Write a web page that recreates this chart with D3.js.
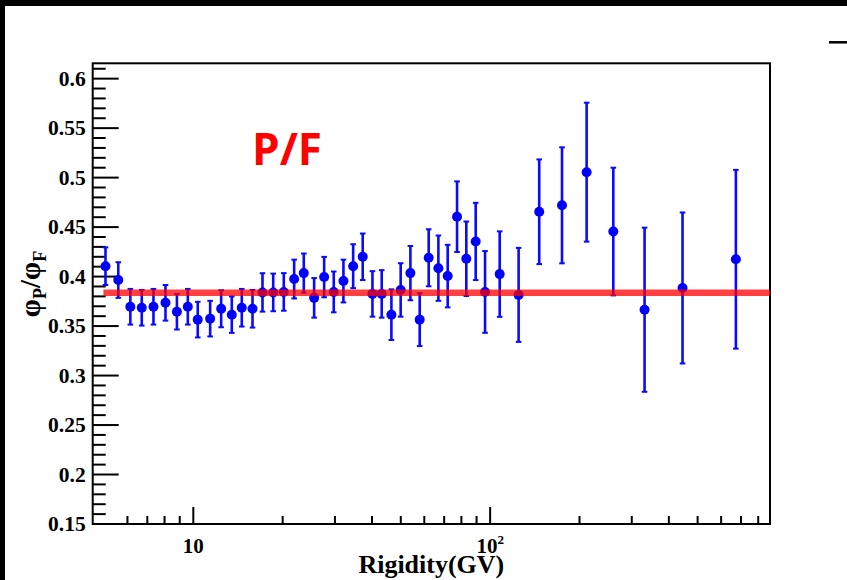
<!DOCTYPE html>
<html>
<head>
<meta charset="utf-8">
<script src="https://cdn.jsdelivr.net/npm/d3@7"></script>
<style>
  html, body { margin: 0; padding: 0; background: #fff; }
  svg { display: block; }
</style>
</head>
<body>
<svg id="chart" width="847" height="580"></svg>
<script>
// ---- data ----
const rigidity = [5.08,5.61,6.16,6.73,7.37,8.09,8.84,9.62,10.39,11.44,12.46,13.53,14.62,15.89,17.17,18.66,20.25,21.95,23.65,25.63,27.70,29.84,32.17,34.69,37.36,40.29,43.29,46.67,50.15,54.08,58.12,62.32,67.19,72.22,77.66,83.45,89.74,96.49,108.1,125.2,146.9,175.3,212.2,261.0,332.6,446.5,675.3];
const ratio = [0.410,0.396,0.369,0.368,0.369,0.373,0.364,0.369,0.356,0.357,0.367,0.361,0.368,0.367,0.3835,0.3835,0.384,0.397,0.403,0.378,0.399,0.384,0.395,0.410,0.4195,0.382,0.382,0.361,0.386,0.403,0.356,0.4185,0.408,0.400,0.460,0.4175,0.435,0.384,0.402,0.381,0.465,0.4715,0.505,0.445,0.366,0.388,0.417];
const ratioErr = [0.019,0.018,0.018,0.018,0.018,0.018,0.018,0.018,0.018,0.018,0.0187,0.0184,0.019,0.019,0.0194,0.019,0.019,0.0196,0.0198,0.020,0.0204,0.0206,0.0216,0.0222,0.0235,0.023,0.024,0.0256,0.027,0.0274,0.0267,0.0288,0.033,0.0316,0.0357,0.0376,0.039,0.0413,0.0432,0.0475,0.0529,0.0586,0.0702,0.0645,0.0829,0.0763,0.0903];
const fitValue = 0.3831;
const fitRange = [5.0, 880];
const xDomain = [4.6, 880];
const yDomain = [0.1495, 0.615];
const yMajorTicks = [0.15,0.2,0.25,0.3,0.35,0.4,0.45,0.5,0.55,0.6];
const yTickLabels = ["0.15","0.2","0.25","0.3","0.35","0.4","0.45","0.5","0.55","0.6"];
const xMajorTicks = [10, 100];
const xMinorTicks = [6,7,8,9,20,30,40,50,60,70,80,90,200,300,400,500,600,700,800];

// ---- layout ----
const svg = d3.select("#chart");
const L = 92.7, R = 770, T = 63.3, B = 524;
const x = d3.scaleLog().domain(xDomain).range([L, R]);
const y = d3.scaleLinear().domain(yDomain).range([B, T]);
const serif = "'Liberation Serif','Times New Roman',serif";

// black canvas border bands
svg.append("rect").attr("x",0).attr("y",0).attr("width",847).attr("height",6).attr("fill","#000");
svg.append("rect").attr("x",0).attr("y",0).attr("width",5).attr("height",580).attr("fill","#000");
// small dash top-right
svg.append("line").attr("x1",829).attr("x2",847).attr("y1",42.3).attr("y2",42.3).attr("stroke","#000").attr("stroke-width",2.5);

// y minor ticks
const yMinor = d3.range(15, 62).map(v => v/100).filter(v => Math.round(v*100) % 5 !== 0);
svg.append("g").attr("transform",`translate(${L},0)`)
  .call(d3.axisLeft(y).tickValues(yMinor).tickSizeInner(-13).tickSizeOuter(0).tickFormat(""))
  .call(g => g.select(".domain").remove())
  .call(g => g.selectAll("line").attr("stroke","#000").attr("stroke-width",2));
// y major ticks
svg.append("g").attr("transform",`translate(${L},0)`)
  .call(d3.axisLeft(y).tickValues(yMajorTicks).tickSizeInner(-26).tickSizeOuter(0).tickPadding(7)
        .tickFormat((d,i) => yTickLabels[i]))
  .call(g => g.select(".domain").remove())
  .call(g => g.selectAll("line").attr("stroke","#000").attr("stroke-width",2))
  .call(g => g.selectAll("text").attr("font-family",serif).attr("font-weight","bold")
        .attr("font-size","21.5px").attr("fill","#000").attr("dy","0.34em"));

// x minor ticks
svg.append("g").attr("transform",`translate(0,${B})`)
  .call(d3.axisBottom(x).tickValues(xMinorTicks).tickSizeInner(-8).tickSizeOuter(0).tickFormat(""))
  .call(g => g.select(".domain").remove())
  .call(g => g.selectAll("line").attr("stroke","#000").attr("stroke-width",2));
// x major ticks
const xMajG = svg.append("g").attr("transform",`translate(0,${B})`)
  .call(d3.axisBottom(x).tickValues(xMajorTicks).tickSizeInner(-17).tickSizeOuter(0).tickFormat(""))
  .call(g => g.select(".domain").remove())
  .call(g => g.selectAll("line").attr("stroke","#000").attr("stroke-width",2));
xMajG.selectAll(".tick").append("text")
  .attr("y", 29).attr("text-anchor","middle")
  .attr("font-family",serif).attr("font-weight","bold").attr("font-size","21px").attr("fill","#000")
  .each(function(d){
    const t = d3.select(this);
    const e = Math.round(Math.log10(d));
    if (e === 1) { t.text("10"); }
    else {
      t.append("tspan").text("10");
      t.append("tspan").text(String(e)).attr("font-size","13px").attr("dy","-9");
    }
  });

// frame
svg.append("rect").attr("x",L).attr("y",T).attr("width",R-L).attr("height",B-T)
  .attr("fill","none").attr("stroke","#000").attr("stroke-width",2);

// data: error bars + markers
const pts = rigidity.map((r,i) => ({r, v: ratio[i], e: ratioErr[i]}));
const gData = svg.append("g");
gData.selectAll("line.err").data(pts).join("line").attr("class","err")
  .attr("x1",d=>x(d.r)).attr("x2",d=>x(d.r))
  .attr("y1",d=>y(d.v+d.e)).attr("y2",d=>y(d.v-d.e))
  .attr("stroke","#0a0aff").attr("stroke-width",2.6);
gData.selectAll("line.capT").data(pts).join("line").attr("class","capT")
  .attr("x1",d=>x(d.r)-2.8).attr("x2",d=>x(d.r)+2.8)
  .attr("y1",d=>y(d.v+d.e)).attr("y2",d=>y(d.v+d.e))
  .attr("stroke","#0a0aff").attr("stroke-width",2);
gData.selectAll("line.capB").data(pts).join("line").attr("class","capB")
  .attr("x1",d=>x(d.r)-2.8).attr("x2",d=>x(d.r)+2.8)
  .attr("y1",d=>y(d.v-d.e)).attr("y2",d=>y(d.v-d.e))
  .attr("stroke","#0a0aff").attr("stroke-width",2);
gData.selectAll("circle").data(pts).join("circle")
  .attr("cx",d=>x(d.r)).attr("cy",d=>y(d.v)).attr("r",5).attr("fill","#0000ff");

// fit line (semi-transparent red, drawn on top)
svg.append("line")
  .attr("x1",x(fitRange[0])).attr("x2",Math.min(x(fitRange[1]),R))
  .attr("y1",y(fitValue)).attr("y2",y(fitValue))
  .attr("stroke","#ff0000").attr("stroke-opacity",0.75).attr("stroke-width",6.5);

// P/F label
svg.append("text").attr("x",252).attr("y",165)
  .attr("font-family","'Open Sans','Noto Sans',sans-serif").attr("font-weight","bold")
  .attr("font-size","44px").attr("fill","#ff0000").text("P/F");

// axis titles
svg.append("text").attr("x",(L+R)/2).attr("y",573).attr("text-anchor","middle")
  .attr("font-family",serif).attr("font-weight","bold").attr("font-size","26px").attr("fill","#000")
  .text("Rigidity(GV)");

const yt = svg.append("text").attr("transform","translate(40,284) rotate(-90)")
  .attr("text-anchor","middle").attr("font-family",serif).attr("font-weight","bold")
  .attr("font-size","29px").attr("fill","#000");
yt.append("tspan").text("φ");
yt.append("tspan").text("P").attr("font-size","18px").attr("dy","6");
yt.append("tspan").text("/").attr("dy","-6");
yt.append("tspan").text("φ");
yt.append("tspan").text("F").attr("font-size","18px").attr("dy","6");
</script>
</body>
</html>
